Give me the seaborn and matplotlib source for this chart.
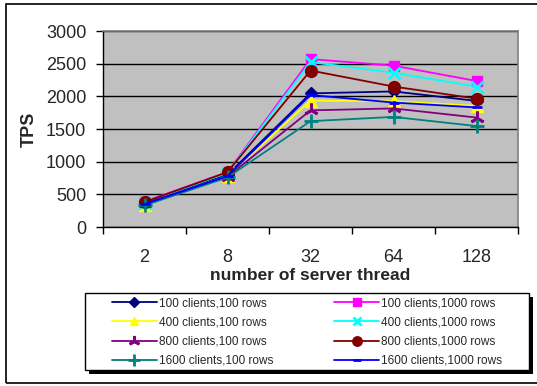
import matplotlib
matplotlib.use("Agg")
import matplotlib.pyplot as plt
import seaborn as sns
import pandas as pd
from matplotlib.patches import Rectangle
from matplotlib.ticker import FixedLocator, NullFormatter

threads = ["2", "8", "32", "64", "128"]

c100_r100 = [370, 800, 2045, 2075, 1930]
c100_r1000 = [390, 840, 2570, 2470, 2235]
c400_r100 = [340, 780, 1935, 1925, 1855]
c400_r1000 = [370, 830, 2525, 2360, 2150]
c800_r100 = [360, 770, 1785, 1815, 1675]
c800_r1000 = [380, 840, 2395, 2150, 1965]
c1600_r100 = [330, 760, 1620, 1685, 1545]
c1600_r1000 = [350, 780, 2020, 1905, 1830]

series = [
    ("100 clients,100 rows", c100_r100, "#000080", "D", 6),
    ("100 clients,1000 rows", c100_r1000, "#FF00FF", "s", 7.5),
    ("400 clients,100 rows", c400_r100, "#FFFF00", "^", 8),
    ("400 clients,1000 rows", c400_r1000, "#00FFFF", "x", 8),
    ("800 clients,100 rows", c800_r100, "#800080", (3, 2, 0), 10),
    ("800 clients,1000 rows", c800_r1000, "#800000", "o", 8.5),
    ("1600 clients,100 rows", c1600_r100, "#008080", "+", 10),
    ("1600 clients,1000 rows", c1600_r1000, "#0000FF", "_", 7),
]

rows = []
for name, vals, *_ in series:
    for i, v in enumerate(vals):
        rows.append({"series": name, "pos": i, "TPS": v})
df = pd.DataFrame(rows)

sns.set_style("white")
plt.rcParams["font.family"] = ["Liberation Sans", "DejaVu Sans"]

W, H = 537, 386
fig = plt.figure(figsize=(W / 100, H / 100), dpi=100)
ax = fig.add_axes([103 / W, 1 - 227 / H, 415 / W, 196 / H])
ax.set_facecolor("#C0C0C0")

handles = {}
for name, vals, color, marker, ms in series:
    sub = df[df["series"] == name]
    thin = marker in ("x", "+", "_") or isinstance(marker, tuple)
    sns.lineplot(data=sub, x="pos", y="TPS", ax=ax, color=color, marker=marker,
                 markersize=ms, markeredgecolor=color, markerfacecolor=color,
                 markeredgewidth=2 if thin else 1,
                 linewidth=1.3, label=name, legend=False, zorder=3)
    handles[name] = ax.lines[-1]

ax.set_xlim(-0.5, 4.5)
ax.set_ylim(0, 3000)
ax.set_yticks(range(0, 3001, 500))
ax.yaxis.grid(True, color="black", linewidth=1)
ax.set_axisbelow(True)

# tick marks on category boundaries, labels at category centres
ax.xaxis.set_major_locator(FixedLocator([-0.5 + i for i in range(6)]))
ax.xaxis.set_major_formatter(NullFormatter())
ax.xaxis.set_minor_locator(FixedLocator(list(range(len(threads)))))
ax.set_xticklabels(threads, minor=True)
ax.tick_params(axis="x", which="major", direction="out", length=5, width=1, color="black")
ax.tick_params(axis="x", which="minor", length=0, pad=16, labelsize=13)
ax.tick_params(axis="y", direction="out", length=5, width=1, color="black", pad=7, labelsize=13)
ax.tick_params(left=True, bottom=True)

for side in ("top", "right"):
    ax.spines[side].set_color("#808080")
    ax.spines[side].set_linewidth(1.2)
for side in ("left", "bottom"):
    ax.spines[side].set_color("black")
    ax.spines[side].set_linewidth(1)

ax.set_xlabel("number of server thread", fontsize=12.5, fontweight="bold", labelpad=1)
ax.set_ylabel("TPS", fontsize=13, fontweight="bold", labelpad=6)

# legend box with a solid drop shadow
lx0, ly0, lx1, ly1 = 85, 293, 529, 370
fig.patches.append(Rectangle(((lx0 + 4) / W, 1 - (ly1 + 4) / H), (lx1 - lx0) / W, (ly1 - ly0) / H,
                             transform=fig.transFigure, facecolor="black", edgecolor="none", zorder=1))
fig.patches.append(Rectangle((lx0 / W, 1 - ly1 / H), (lx1 - lx0) / W, (ly1 - ly0) / H,
                             transform=fig.transFigure, facecolor="white", edgecolor="black",
                             linewidth=1, zorder=2))

order = [s[0] for s in series]
legend_order = order[0::2] + order[1::2]
leg = fig.legend([handles[n] for n in legend_order], legend_order,
                 loc="upper left", ncol=2,
                 bbox_to_anchor=(112 / W, 1 - 297 / H),
                 fontsize=8.5, frameon=False,
                 handlelength=3.8, handletextpad=0.15, borderpad=0,
                 labelspacing=0.62, columnspacing=5.2, markerscale=0.8,
                 borderaxespad=0)
leg.set_zorder(3)

# outer chart border (open on the right, where it runs past the image edge)
fig.patches.append(Rectangle((5.5 / W, 3 / H), 540 / W, 379 / H,
                             transform=fig.transFigure, fill=False,
                             edgecolor="black", linewidth=1.2))

fig.savefig("out.png", dpi=100)
